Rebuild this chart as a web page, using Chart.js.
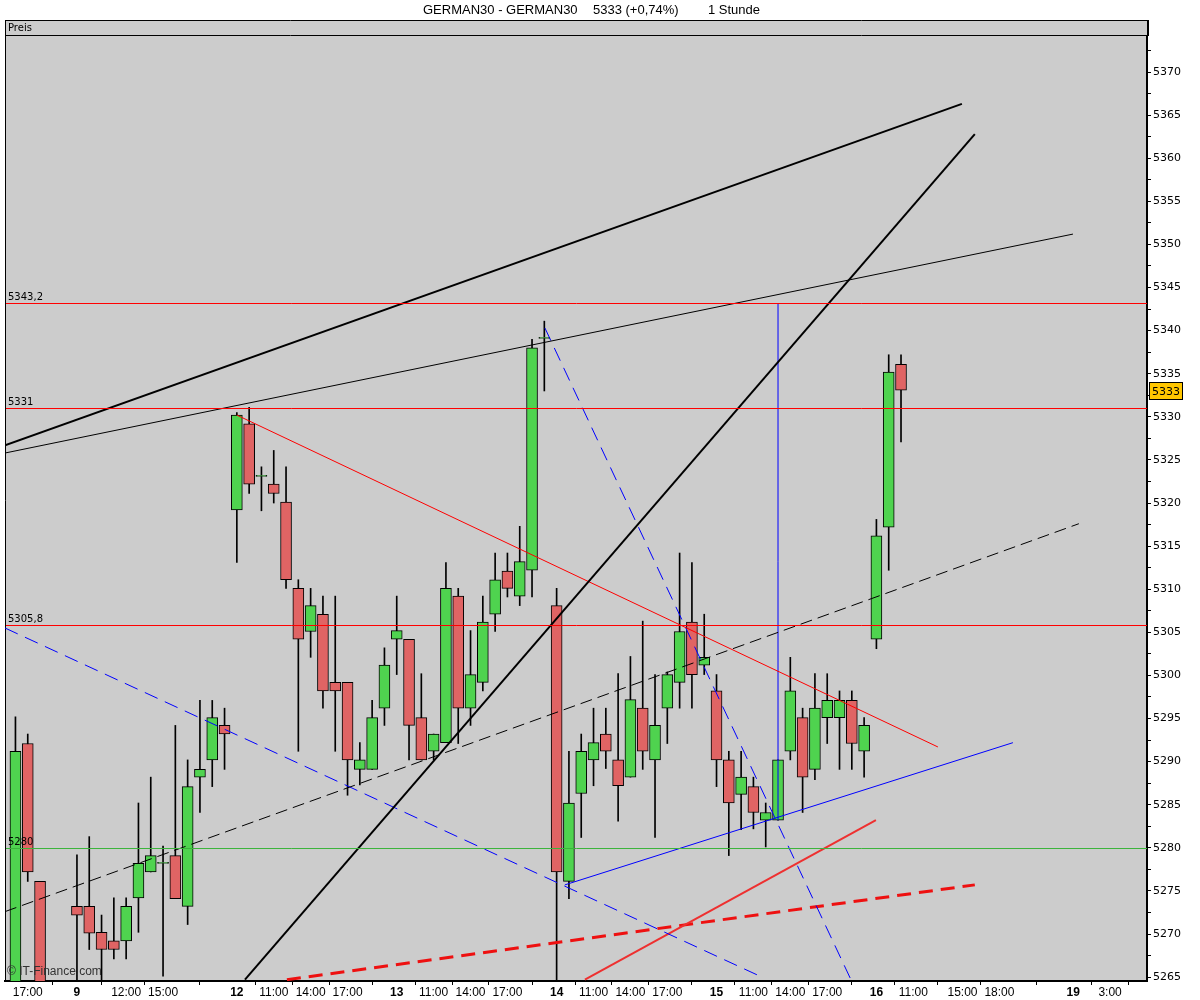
<!DOCTYPE html>
<html>
<head>
<meta charset="utf-8">
<script src="https://cdn.jsdelivr.net/npm/chart.js@4.4.1/dist/chart.umd.min.js"></script>
<style>
  body { margin: 0; background: #fff; }
  canvas { display: block; }
</style>
</head>
<body>
<canvas id="chart" width="1200" height="1000"></canvas>
<script>
// hourly slots, 0 = day 9 08:00, 13 slots per trading day
const slots = [-5, -4, -3, 0, 1, 2, 3, 4, 5, 6, 7, 8, 9, 10, 11, 12, 13, 14, 15, 16, 17, 18, 19, 20, 21, 22, 23, 24, 25, 26, 27, 28, 29, 30, 31, 32, 33, 34, 35, 36, 37, 38, 39, 40, 41, 42, 43, 44, 45, 46, 47, 48, 49, 50, 51, 52, 53, 54, 55, 56, 57, 58, 59, 60, 61, 62, 63, 64, 65, 66, 67]
const opens = [5263, 5292.1, 5276.1, 5273.2, 5273.2, 5270.2, 5269.2, 5269.2, 5274.2, 5277.2, 5278.2, 5279.1, 5273.2, 5288.2, 5290.2, 5294.2, 5319.2, 5329.2, 5323.1, 5322.2, 5320.1, 5310.1, 5305.1, 5307.1, 5299.2, 5299.2, 5289.1, 5289.1, 5296.2, 5304.2, 5304.2, 5295.1, 5291.2, 5292.2, 5309.2, 5296.2, 5299.2, 5307.1, 5312.1, 5309.2, 5312.2, 5339.1, 5308.1, 5276.1, 5286.3, 5290.2, 5293.2, 5290.2, 5288.2, 5296.2, 5290.2, 5296.2, 5299.2, 5306.2, 5301.2, 5298.2, 5290.2, 5286.2, 5287.1, 5283.2, 5283.2, 5291.2, 5295.1, 5289.1, 5295.1, 5295.1, 5297.1, 5291.2, 5304.2, 5317.2, 5336.1]
const highs = [5295.2, 5293.2, 5276.1, 5279.2, 5281.3, 5272.2, 5274.2, 5274.2, 5285.2, 5288.2, 5280.2, 5294.2, 5290.2, 5297.1, 5297.1, 5296.2, 5330.5, 5331.1, 5324.2, 5326.1, 5324.2, 5311.1, 5310.1, 5309.2, 5309.2, 5299.2, 5292.2, 5297.1, 5303.2, 5309.2, 5304.2, 5300.2, 5293.2, 5313.1, 5310.1, 5305.2, 5309.2, 5314.2, 5314.2, 5317.3, 5339.0, 5341.1, 5310.1, 5291.2, 5293.2, 5296.2, 5296.2, 5300.2, 5302.2, 5306.3, 5300.1, 5300.4, 5314.2, 5313.1, 5307.1, 5300.1, 5291.2, 5291.2, 5288.2, 5285.2, 5290.2, 5302.1, 5296.2, 5300.2, 5300.2, 5298.2, 5298.2, 5295.1, 5318.1, 5337.2, 5337.2]
const lows = [5261, 5276.1, 5260, 5263, 5268.2, 5263, 5267.1, 5267.1, 5270.2, 5277.2, 5265.1, 5274.1, 5271.1, 5284.1, 5287.1, 5289.1, 5313.1, 5321.1, 5319.1, 5320.0, 5310.1, 5291.2, 5302.1, 5296.2, 5291.2, 5286.1, 5287.3, 5289.1, 5294.2, 5300.1, 5290.2, 5290.2, 5290.2, 5292.2, 5292.1, 5294.2, 5298.2, 5305.1, 5309.1, 5308.1, 5309.1, 5333.0, 5262, 5274.1, 5281.2, 5287.2, 5289.2, 5283.1, 5288.2, 5289.1, 5281.2, 5292.1, 5296.2, 5296.2, 5300.1, 5287.1, 5279.1, 5282.1, 5282.2, 5280.1, 5283.2, 5290.2, 5284.1, 5287.9, 5292.1, 5289.1, 5289.1, 5288.2, 5303.1, 5312.2, 5327.1]
const closes = [5291.2, 5277.2, 5262, 5272.2, 5270.1, 5268.2, 5268.2, 5273.2, 5278.2, 5279.1, 5278.2, 5274.1, 5287.1, 5289.1, 5295.1, 5293.2, 5330.2, 5322.2, 5323.1, 5321.1, 5311.1, 5304.2, 5308.1, 5298.2, 5298.2, 5290.2, 5290.2, 5295.1, 5301.2, 5305.2, 5294.2, 5290.2, 5293.2, 5310.1, 5296.2, 5300.1, 5306.2, 5311.1, 5310.1, 5313.2, 5338.0, 5339.1, 5277.2, 5285.2, 5291.2, 5292.2, 5291.2, 5287.2, 5297.2, 5291.2, 5294.2, 5300.1, 5305.1, 5300.1, 5302.1, 5290.2, 5285.2, 5288.2, 5284.1, 5284.1, 5290.2, 5298.2, 5288.2, 5296.2, 5297.1, 5297.1, 5292.1, 5294.2, 5316.2, 5335.2, 5333.1]

const tickSlots = [-4, 0, 4, 7, 13, 16, 19, 22, 26, 29, 32, 35, 39, 42, 45, 48, 52, 55, 58, 61, 65, 68, 72, 75, 81, 84]
const tickLabels = ['17:00', '9', '12:00', '15:00', '12', '11:00', '14:00', '17:00', '13', '11:00', '14:00', '17:00', '14', '11:00', '14:00', '17:00', '15', '11:00', '14:00', '17:00', '16', '11:00', '15:00', '18:00', '19', '3:00']
const dayLabels = ['9', '12', '13', '14', '15', '16', '19']

const levels = [5343.2, 5331, 5305.8, 5280]
const levelLabels = ['5343,2', '5331', '5305,8', '5280']
const levelColors = ['#ff0000', '#ff0000', '#ff0000', '#3cb43c']
const lastPrice = 5333

// drawn trend lines, [slot, price] end points
const upperThick = [[-5.85, 5326.7], [71.95, 5366.3]]
const upperThin = [[-5.85, 5325.8], [80.98, 5351.2]]
const steepThick = [[13.66, 5264.7], [73.0, 5362.8]]
const midDashed = [[-5.85, 5272.6], [81.46, 5317.6]]
const redFalling = [[13.0, 5330.2], [70.0, 5291.7]]
const blueDashLong = [[-5.85, 5305.5], [55.7, 5265.0]]
const blueDashSteep = [[38.05, 5340.3], [62.93, 5264.7]]
const blueVertical = [[57.0, 5283.2], [57.0, 5343.2]]
const blueRising = [[39.67, 5275.7], [76.1, 5292.2]]
const redRising = [[41.3, 5264.7], [64.96, 5283.2]]
const redDashed = [[17.07, 5264.7], [73.0, 5275.7]]

const GREEN = '#4fd34f'
const RED = '#e06464'

const yTicks = []
for (let v = 5265; v <= 5372.5; v += 2.5) yTicks.push(v)

function segment(points, color, width, dash) {
  return {
    type: 'line',
    data: points.map(p => ({ x: p[0], y: p[1] })),
    borderColor: color,
    borderWidth: width,
    borderDash: dash || [],
    pointRadius: 0,
    fill: false,
    tension: 0,
    order: 0,
    clip: 0
  }
}

const decorations = {
  id: 'decorations',
  beforeDraw(chart) {
    const { ctx, chartArea: a } = chart
    ctx.save()
    ctx.fillStyle = '#cccccc'
    ctx.fillRect(a.left, 20, a.right - a.left, a.bottom - 20)
    ctx.strokeStyle = '#000'
    ctx.lineWidth = 1
    ctx.beginPath()
    ctx.moveTo(a.left, 20.5)
    ctx.lineTo(a.right, 20.5)
    ctx.moveTo(a.left, 35.5)
    ctx.lineTo(a.right, 35.5)
    ctx.moveTo(a.left + 0.5, 20)
    ctx.lineTo(a.left + 0.5, a.bottom)
    ctx.stroke()
    ctx.lineWidth = 2
    ctx.beginPath()
    ctx.moveTo(a.right + 1, 20)
    ctx.lineTo(a.right + 1, a.top)
    ctx.stroke()
    ctx.fillStyle = '#000'
    ctx.font = '10px "DejaVu Sans"'
    ctx.textBaseline = 'middle'
    ctx.fillText('Preis', a.left + 3, 28)
    ctx.restore()
  },
  afterDatasetsDraw(chart) {
    // horizontal price levels, snapped to whole pixels
    const { ctx, chartArea: a } = chart
    const y = chart.scales.y
    ctx.save()
    ctx.lineWidth = 1
    levels.forEach((v, i) => {
      const py = Math.round(y.getPixelForValue(v)) + 0.5
      ctx.strokeStyle = levelColors[i]
      ctx.beginPath()
      ctx.moveTo(a.left + 1, py)
      ctx.lineTo(a.right, py)
      ctx.stroke()
    })
    ctx.restore()
  },
  afterDraw(chart) {
    const { ctx, chartArea: a } = chart
    const y = chart.scales.y
    ctx.save()
    ctx.fillStyle = '#000'
    ctx.font = '10px "DejaVu Sans"'
    ctx.textBaseline = 'alphabetic'
    levels.forEach((v, i) => {
      ctx.fillText(levelLabels[i], a.left + 3, Math.round(y.getPixelForValue(v)) - 3)
    })
    ctx.fillStyle = '#333'
    ctx.font = '12px "Liberation Sans"'
    ctx.textBaseline = 'middle'
    ctx.fillText('\u00a9 IT-Finance.com', a.left + 2, 972)

    const py = Math.round(y.getPixelForValue(lastPrice))
    ctx.fillStyle = '#ffc600'
    ctx.fillRect(a.right + 2, py - 9, 33, 18)
    ctx.strokeStyle = '#000'
    ctx.lineWidth = 1
    ctx.strokeRect(a.right + 2.5, py - 8.5, 33, 17)
    ctx.fillStyle = '#000'
    ctx.font = '11px "DejaVu Sans"'
    ctx.fillText(String(lastPrice), a.right + 5, py + 1)

    ctx.font = '13px "Liberation Sans"'
    ctx.fillText('GERMAN30 - GERMAN30', 423, 10)
    ctx.fillText('5333 (+0,74%)', 593, 10)
    ctx.fillText('1 Stunde', 708, 10)
    ctx.restore()
  }
}

new Chart(document.getElementById('chart'), {
  type: 'bar',
  data: {
    datasets: [
      segment(upperThick, '#000', 2),
      segment(upperThin, '#000', 1),
      segment(steepThick, '#000', 2),
      segment(midDashed, '#000', 1, [12, 6]),
      segment(redFalling, '#ff0000', 1),
      segment(blueDashLong, '#0000ff', 1, [14, 8]),
      segment(blueDashSteep, '#0000ff', 1, [14, 8]),
      segment(blueVertical, '#0000ff', 1),
      segment(blueRising, '#0000ff', 1),
      segment(redRising, '#ee3030', 2),
      segment(redDashed, '#ee1010', 3, [14, 8]),
      {
        // candle bodies
        data: slots.map((s, i) => ({ x: s, y: [opens[i], closes[i]] })),
        backgroundColor: slots.map((s, i) => (closes[i] >= opens[i] ? GREEN : RED)),
        borderColor: '#000',
        borderWidth: 1,
        borderSkipped: false,
        barThickness: 11,
        minBarLength: 1,
        grouped: false,
        order: 1,
        clip: 0
      },
      {
        // wicks
        data: slots.map((s, i) => ({ x: s, y: [lows[i], highs[i]] })),
        backgroundColor: '#000',
        borderWidth: 0,
        barThickness: 1,
        grouped: false,
        order: 2,
        clip: 0
      }
    ]
  },
  options: {
    responsive: false,
    devicePixelRatio: 1,
    animation: false,
    events: [],
    layout: { padding: { left: 5, top: 36, right: 0, bottom: 0 } },
    plugins: {
      legend: { display: false },
      tooltip: { enabled: false },
      title: { display: false }
    },
    scales: {
      x: {
        type: 'linear',
        min: -5.85,
        max: 87,
        offset: false,
        afterFit: scale => { scale.height = 19 },
        afterBuildTicks: scale => { scale.ticks = tickSlots.map(v => ({ value: v })) },
        grid: { display: true, drawOnChartArea: false, drawTicks: true, tickLength: 4, color: '#000' },
        border: { display: true, color: '#000', width: 2 },
        ticks: {
          autoSkip: false,
          maxRotation: 0,
          padding: 0,
          color: '#000',
          callback: value => tickLabels[tickSlots.indexOf(value)],
          font: c => {
            const label = c.tick ? tickLabels[tickSlots.indexOf(c.tick.value)] : ''
            return { family: 'Liberation Sans', size: 12, weight: dayLabels.includes(label) ? 'bold' : 'normal' }
          }
        }
      },
      y: {
        position: 'right',
        min: 5264.55,
        max: 5374.18,
        afterFit: scale => { scale.width = 53 },
        afterBuildTicks: scale => { scale.ticks = yTicks.map(v => ({ value: v })) },
        grid: { display: true, drawOnChartArea: false, drawTicks: true, tickLength: 4, color: '#000' },
        border: { display: true, color: '#000', width: 2 },
        ticks: {
          padding: 2,
          color: '#000',
          font: { family: 'DejaVu Sans', size: 11 },
          callback: value => (value % 5 === 0 ? String(value) : '')
        }
      }
    }
  },
  plugins: [decorations]
})
</script>
</body>
</html>
